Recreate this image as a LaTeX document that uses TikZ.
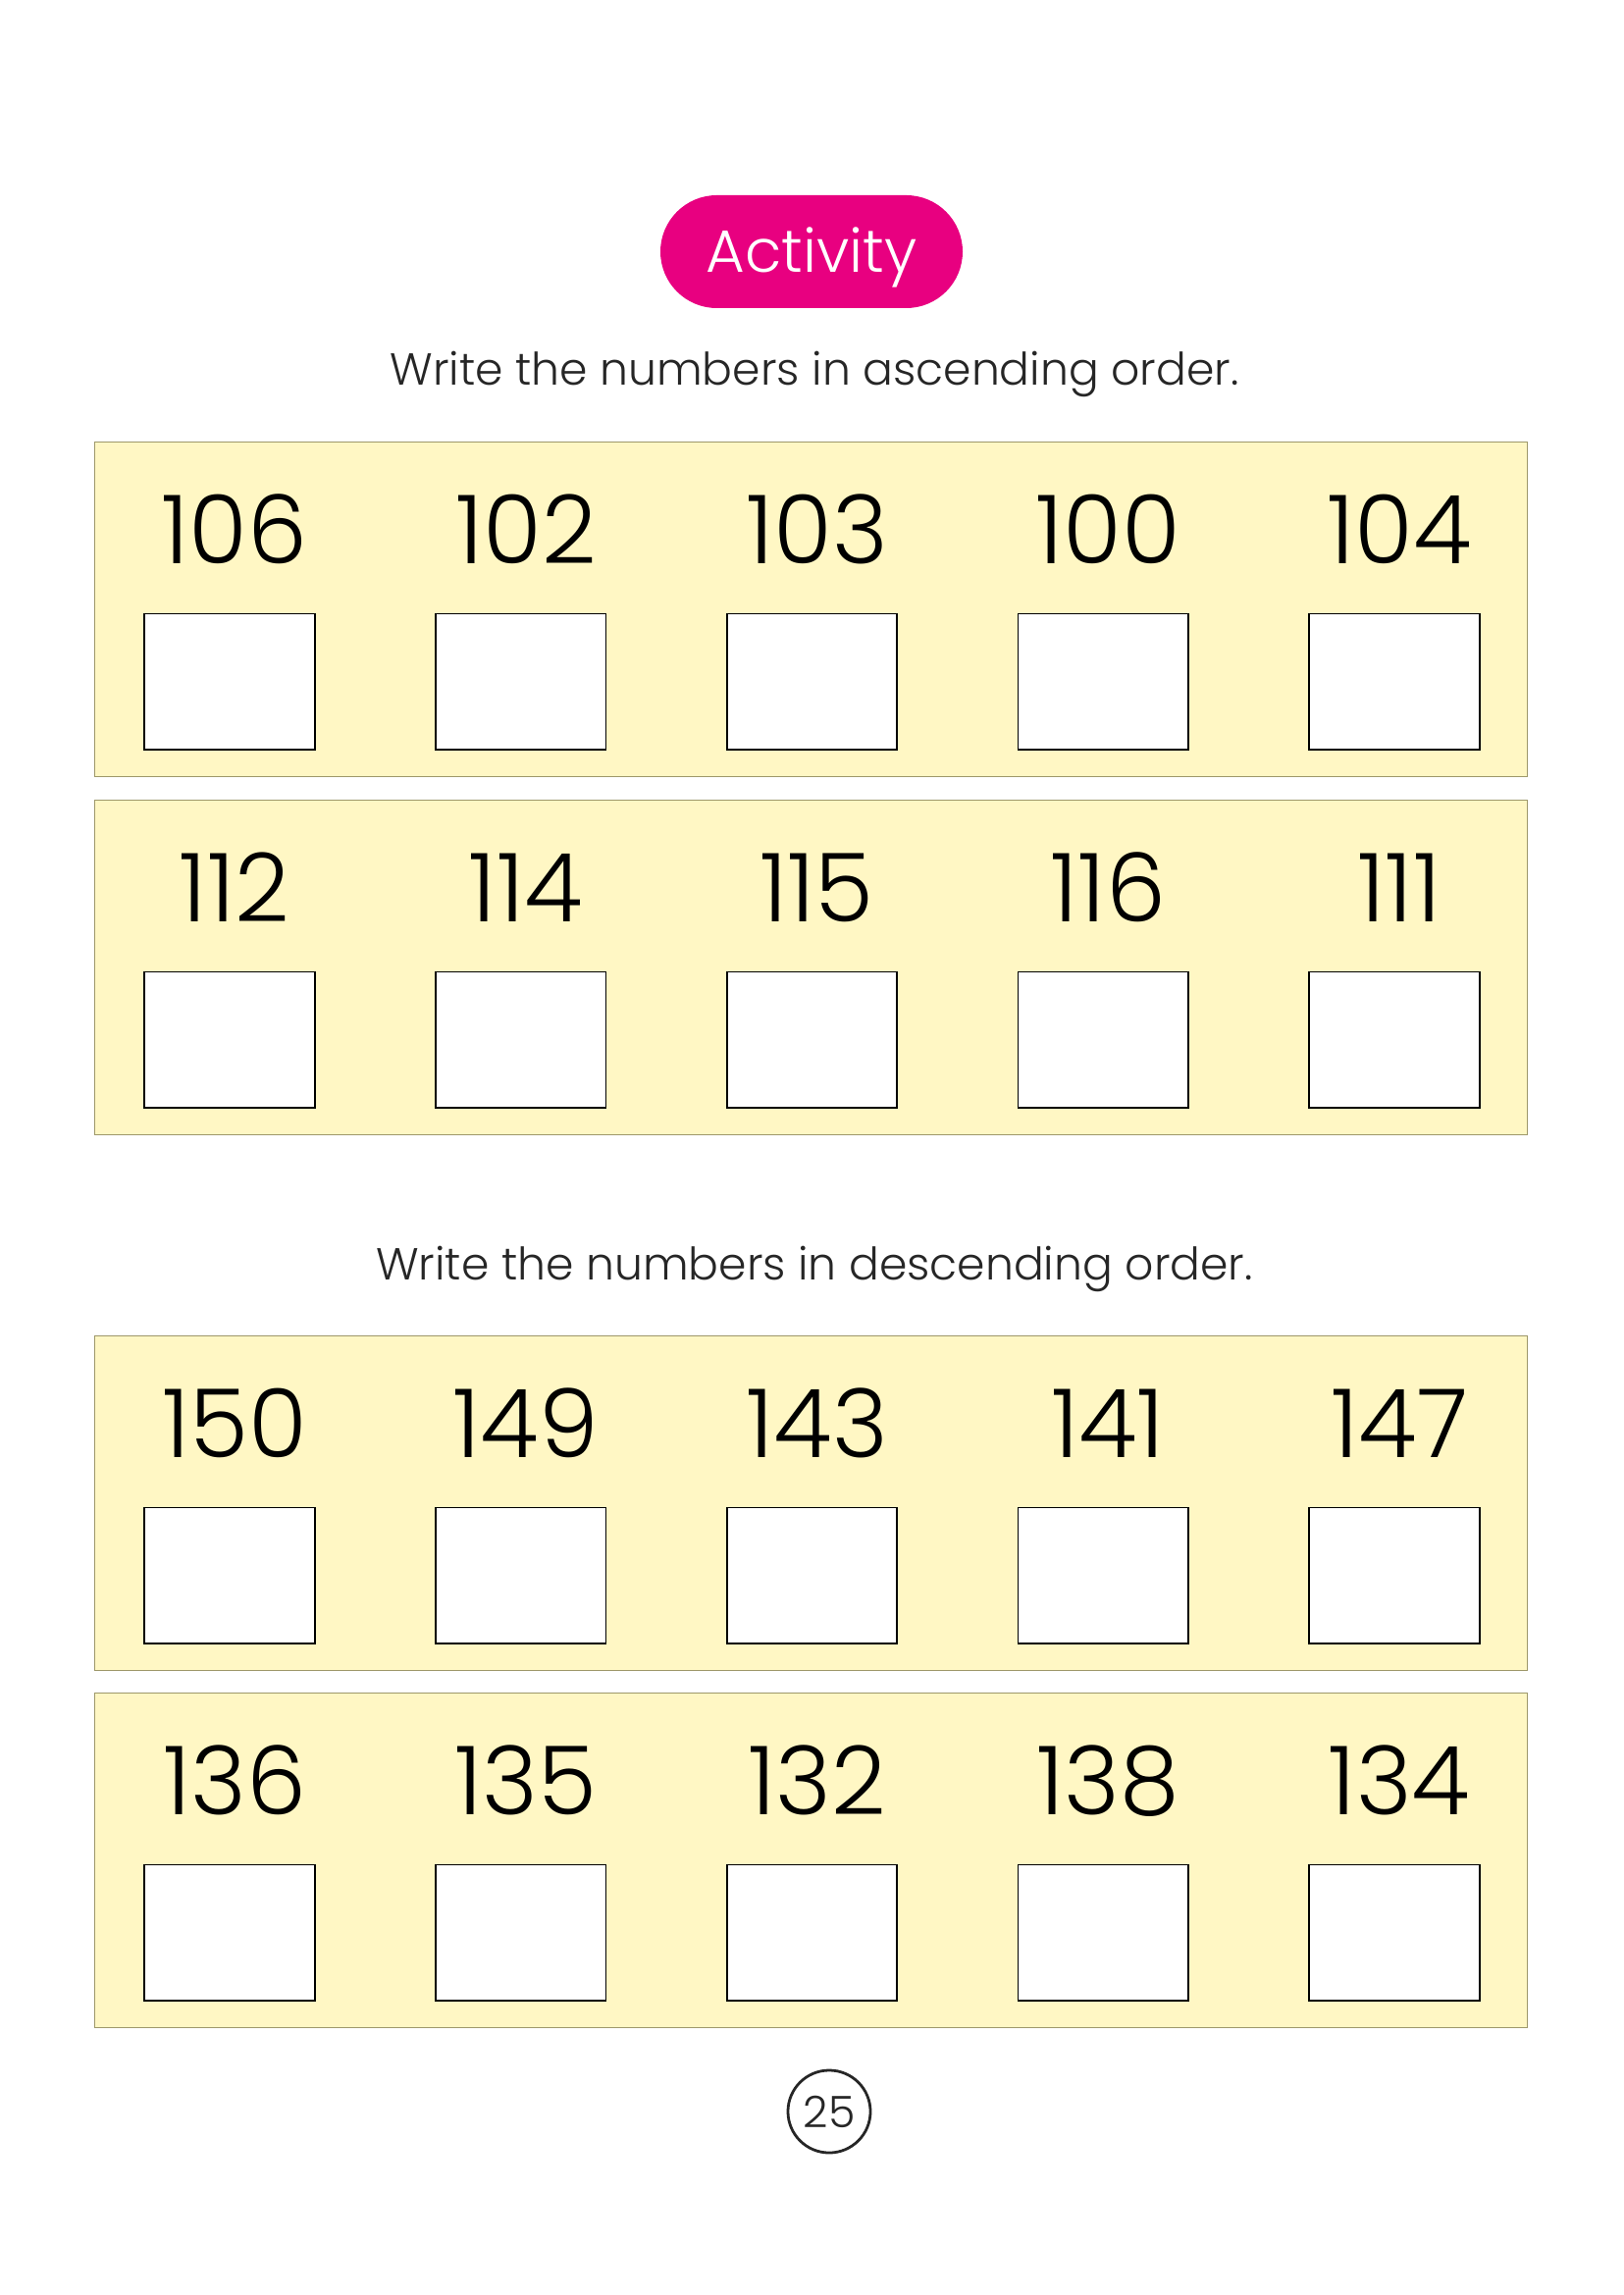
\documentclass[tikz,border=0pt]{standalone}
\usepackage{fontspec}
\setmainfont{Poppins Light}
\usepackage{xcolor}
\usepackage{tikz}

\definecolor{actpink}{RGB}{232,0,128}
\definecolor{panelfill}{RGB}{255,247,196}
\definecolor{paneledge}{RGB}{158,152,106}
\definecolor{inkgray}{RGB}{38,38,38}

\begin{document}
\begin{tikzpicture}[x=0.012697cm, y=-0.012697cm,
        panel/.style={fill=panelfill, draw=paneledge, line width=0.5pt},
        answerbox/.style={fill=white, draw=black, line width=0.6pt, inner sep=0pt,
            minimum width=2.202cm, minimum height=1.761cm},
        numlabel/.style={anchor=base, inner sep=0pt, font=\fontsize{35}{40}\selectfont},
        heading/.style={anchor=base, inner sep=0pt, text=inkgray, font=\fontsize{16.5}{20}\selectfont}]
            \useasboundingbox[fill=white] (0,0) rectangle (1654,2339);

            % title and instructions
            \node[fill=actpink, text=white, rounded corners=0.73cm, minimum width=3.91cm,
                minimum height=1.46cm, text height=15.4pt, text depth=0pt,
                font=\fontsize{22}{26}\selectfont] (title) at (827,256.5) {Activity};
            \node[heading] (asc) at (830,393) {Write the numbers in ascending order.};
            \node[heading] (desc) at (830,1304) {Write the numbers in descending order.};

            % number strips
            \foreach \top/\nums [count=\r] in {450.7/{106,102,103,100,104},
                    815.7/{112,114,115,116,111},
                    1361.7/{150,149,143,141,147},
                    1725.7/{136,135,132,138,134}} {
                \draw[panel] (96.7,\top) rectangle (1556.7,\top+341);
                \foreach \n [count=\c] in \nums {
                    \pgfmathsetmacro\cx{234+296.75*(\c-1)}
                    \node[numlabel] (num-\r-\c) at (\cx+5,\top+124) {\n};
                    \node[answerbox] (box-\r-\c) at (\cx,\top+244) {};
                }
            }

            % page number
            \node[circle, draw=inkgray, line width=1pt, minimum size=1.067cm, inner sep=0pt,
                text=inkgray, font=\fontsize{16}{18}\selectfont] (pagenum) at (845,2152) {25};
        \end{tikzpicture}
\end{document}
